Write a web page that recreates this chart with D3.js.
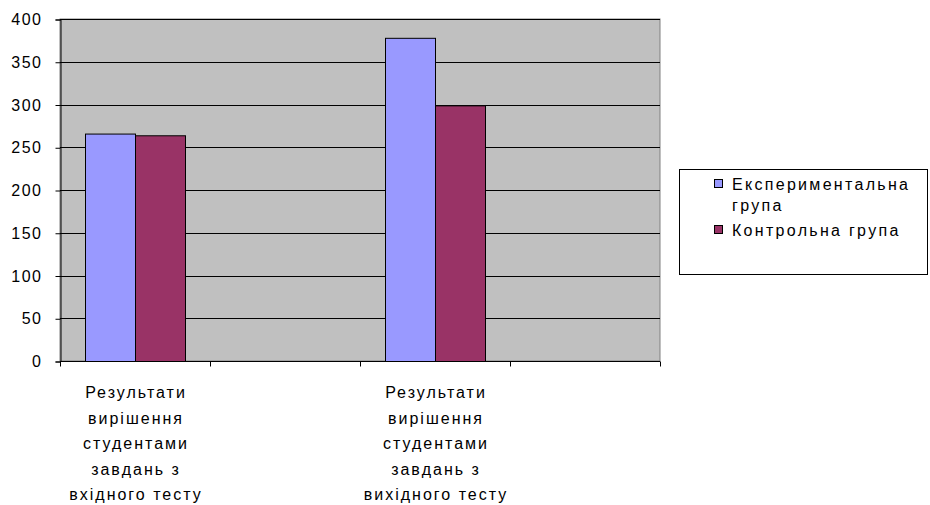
<!DOCTYPE html>
<html>
<head>
<meta charset="utf-8">
<script src="https://cdn.jsdelivr.net/npm/d3@7"></script>
<style>
  body { margin: 0; background: #fff; }
  text { font-family: "Liberation Sans", Arial, sans-serif; fill: #000; }
</style>
</head>
<body>
<div id="chart"></div>
<script>
// data
let categories = ['c1', 'c2', 'c3', 'c4'];
let categoryLabels = [
  ['Результати', 'вирішення', 'студентами', 'завдань з', 'вхідного тесту'],
  [],
  ['Результати', 'вирішення', 'студентами', 'завдань з', 'вихідного тесту'],
  []
];
let seriesNames = ['Експериментальна група', 'Контрольна група'];
let experimental = [266, null, 378, null];
let control = [264, null, 299, null];
let yTicks = [0, 50, 100, 150, 200, 250, 300, 350, 400];

let width = 930, height = 505;
let plot = { left: 60, right: 660, top: 19, bottom: 361 };
let colors = ['#9999FF', '#993366'];

let svg = d3.select('#chart')
  .append('svg')
  .attr('width', width)
  .attr('height', height);

// scales
let yScale = d3.scaleLinear()
  .domain([0, 400])
  .range([plot.bottom, plot.top]);

let xScale = d3.scaleBand()
  .domain(categories)
  .range([plot.left, plot.right]);

let inner = d3.scaleBand()
  .domain([0, 1])
  .range([0, xScale.bandwidth()])
  .paddingOuter(0.5)
  .paddingInner(0);

// plot background
svg.append('rect')
  .attr('x', plot.left)
  .attr('y', plot.top)
  .attr('width', plot.right - plot.left)
  .attr('height', plot.bottom - plot.top)
  .attr('fill', '#C0C0C0')
  .attr('stroke', '#808080')
  .attr('stroke-width', 1);

// gridlines
svg.append('g')
  .selectAll('line')
  .data(yTicks.filter(d => d > 0))
  .enter()
  .append('line')
  .attr('x1', plot.left)
  .attr('x2', plot.right)
  .attr('y1', d => Math.round(yScale(d)) + 0.5)
  .attr('y2', d => Math.round(yScale(d)) + 0.5)
  .attr('stroke', '#000')
  .attr('stroke-width', 1);

// bars
let series = [experimental, control];
series.forEach(function(values, s) {
  svg.append('g')
    .selectAll('rect')
    .data(categories.map((c, i) => ({ cat: c, value: values[i] })).filter(d => d.value != null))
    .enter()
    .append('rect')
    .attr('x', d => xScale(d.cat) + inner(s) + 0.5)
    .attr('y', d => yScale(d.value) + 0.5)
    .attr('width', inner.bandwidth())
    .attr('height', d => plot.bottom - yScale(d.value))
    .attr('fill', colors[s])
    .attr('stroke', '#000')
    .attr('stroke-width', 1);
});

// y axis
let yAxis = svg.append('g')
  .attr('transform', `translate(${plot.left + 0.5},0.5)`)
  .call(d3.axisLeft(yScale).tickValues(yTicks).tickSize(5).tickPadding(13));
yAxis.select('.domain').attr('stroke', '#000');
yAxis.selectAll('line').attr('stroke', '#000');
yAxis.selectAll('text')
  .style('font-size', '16px')
  .style('letter-spacing', '1.5px')
  .attr('font-family', null);

// x axis (ticks at category boundaries)
let xAxis = svg.append('g')
  .attr('transform', `translate(0,${plot.bottom + 0.5})`);
xAxis.append('line')
  .attr('x1', plot.left)
  .attr('x2', plot.right)
  .attr('stroke', '#000');
let boundaries = categories.map(c => xScale(c)).concat([plot.right]);
xAxis.selectAll('.tick')
  .data(boundaries)
  .enter()
  .append('line')
  .attr('x1', d => d + 0.5)
  .attr('x2', d => d + 0.5)
  .attr('y1', 0)
  .attr('y2', 5)
  .attr('stroke', '#000');

// category labels
categories.forEach(function(c, i) {
  let t = svg.append('text')
    .attr('text-anchor', 'middle')
    .style('font-size', '16px')
    .style('letter-spacing', '2px');
  categoryLabels[i].forEach(function(line, k) {
    t.append('tspan')
      .attr('x', xScale(c) + xScale.bandwidth() / 2 + 1)
      .attr('y', 398 + k * 25.5)
      .text(line);
  });
});

// legend
let legend = svg.append('g');
legend.append('rect')
  .attr('x', 679.5)
  .attr('y', 169.5)
  .attr('width', 248)
  .attr('height', 105)
  .attr('fill', '#fff')
  .attr('stroke', '#000');

let legendLines = [['Експериментальна', 'група'], ['Контрольна група']];
let legendY = [190, 236];
legendLines.forEach(function(lines, s) {
  legend.append('rect')
    .attr('x', 714.5)
    .attr('y', legendY[s] - 10.5)
    .attr('width', 8)
    .attr('height', 8)
    .attr('fill', colors[s])
    .attr('stroke', '#000');
  let t = legend.append('text')
    .style('font-size', '16px')
    .style('letter-spacing', '2.3px');
  lines.forEach(function(line, k) {
    t.append('tspan')
      .attr('x', 732)
      .attr('y', legendY[s] + k * 21)
      .text(line);
  });
});
</script>
</body>
</html>
